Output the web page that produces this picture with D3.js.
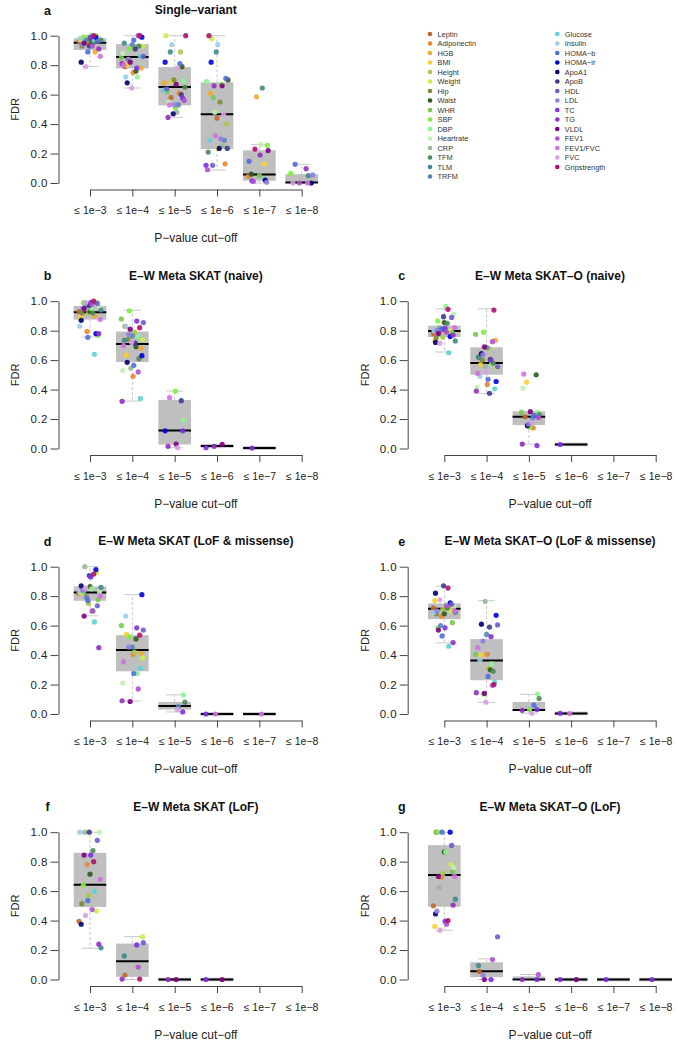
<!DOCTYPE html>
<html>
<head>
<meta charset="utf-8">
<script src="https://cdn.jsdelivr.net/npm/d3@7"></script>
<style>
  body { margin: 0; background: #fff; }
  svg { font-family: "Liberation Sans", Arial, Helvetica, sans-serif; }
</style>
</head>
<body>
<svg id="chart" width="678" height="1049"></svg>
<script>
const _ = null;

const traits = ["Leptin", "Adiponectin", "HGB", "BMI", "Height", "Weight", "Hip", "Waist", "WHR", "SBP",
  "DBP", "Heartrate", "CRP", "TFM", "TLM", "TRFM", "Glucose", "Insulin", "HOMA−b", "HOMA−ir",
  "ApoA1", "ApoB", "HDL", "LDL", "TC", "TG", "VLDL", "FEV1", "FEV1/FVC", "FVC", "Gripstrength"];

const traitColors = ["#c0692a", "#e8892c", "#f0a830", "#f5d033", "#a9c94a", "#c8f04a", "#7d8b3a", "#2f5a1e",
  "#78c850", "#7cf03c", "#8cf58c", "#bff0b0", "#9cb89a", "#4f8a5a", "#3f8a8a", "#5a84b8",
  "#5fd0d0", "#9ccce8", "#4e6ee0", "#0000e0", "#000070", "#3c3c8c", "#6c5cd0", "#9080e0",
  "#7c30e0", "#9030c0", "#800080", "#b050d0", "#d070e0", "#d8a0e0", "#b01070"];

const cutoffs = ["≤ 1e−3", "≤ 1e−4", "≤ 1e−5", "≤ 1e−6", "≤ 1e−7", "≤ 1e−8"];

const panelLetters = ["a", "b", "c", "d", "e", "f", "g"];
const panelTitles = ["Single–variant", "E–W Meta SKAT (naive)", "E–W Meta SKAT–O (naive)",
  "E–W Meta SKAT (LoF & missense)", "E–W Meta SKAT–O (LoF & missense)",
  "E–W Meta SKAT (LoF)", "E–W Meta SKAT–O (LoF)"];

// FDR per cut-off (rows) and trait (columns, same order as traits)
const fdrA = [
  [0.96,0.95,0.89,0.97,0.99,1.0,0.93,0.98,0.97,0.99,1.0,0.98,0.96,0.95,0.97,0.97,0.97,0.98,0.89,0.99,0.82,0.93,0.96,0.94,0.99,0.91,0.95,0.93,0.86,0.79,1.0],
  [0.79,0.75,0.78,0.80,0.92,0.93,0.84,0.76,0.85,0.91,0.72,0.88,0.83,0.93,0.95,0.94,0.86,0.72,0.97,0.99,0.68,0.91,0.86,0.84,0.78,0.81,0.82,1.0,0.80,0.645,1.0],
  [0.58,0.61,0.68,0.69,0.89,1.0,0.70,0.79,0.62,0.51,0.69,0.55,0.48,0.65,0.89,0.53,0.63,0.94,0.81,0.82,0.47,0.60,0.64,0.53,0.575,0.445,0.67,0.56,0.53,0.78,1.0],
  [0.44,0.13,0.61,0.235,0.40,0.98,0.55,0.70,0.58,0.67,0.69,0.48,0.25,0.21,0.89,0.29,0.29,0.94,0.71,0.82,0.235,0.235,0.12,0.30,0.12,0.66,0.66,0.09,0.32,0.465,1.0],
  [_,0.045,0.585,0.129,_,_,_,0.06,0.05,0.255,_,0.26,_,_,0.645,_,_,0.03,0.147,_,0.02,_,_,0.005,0.015,0.19,0.22,0.01,_,_,0.23],
  [_,_,_,_,_,_,_,_,_,0.065,_,_,_,_,0.05,_,_,_,0.127,_,0.0,_,_,0.055,_,0.097,_,0.0,0.0,0.0,_]
];
const fdrB = [
  [0.93,0.795,0.90,0.89,0.92,0.99,0.92,0.93,0.77,0.99,0.95,0.96,0.98,0.92,0.94,0.97,0.64,0.83,0.755,0.78,0.87,0.97,0.985,0.95,0.99,0.78,0.95,0.98,0.875,0.99,1.0],
  [0.83,0.49,0.68,0.635,0.79,0.74,0.74,0.69,0.88,0.935,0.76,0.53,0.545,0.61,0.735,0.765,0.34,0.83,0.565,0.63,0.585,0.715,0.855,0.775,0.865,0.32,0.81,0.52,0.70,0.72,0.82],
  [_,_,_,_,_,_,_,_,_,0.39,0.19,_,_,_,_,_,_,_,_,0.12,_,0.325,_,_,0.12,0.015,0.03,_,0.345,0.005,_],
  [_,_,_,_,_,_,_,_,_,_,_,_,_,_,_,_,_,_,_,_,_,_,_,_,0.005,0.015,0.028,_,_,_,_],
  [_,_,_,_,_,_,_,_,_,_,_,_,_,_,_,_,_,_,_,_,_,_,_,_,0.003,_,_,_,_,_,_],
  [_,_,_,_,_,_,_,_,_,_,_,_,_,_,_,_,_,_,_,_,_,_,_,_,_,_,_,_,_,_,_]
];
const fdrC = [
  [0.78,0.80,0.79,0.735,0.755,0.80,0.75,0.855,0.785,0.865,0.965,0.91,0.82,0.85,0.73,0.81,0.65,0.80,0.81,0.76,0.72,0.895,0.89,0.80,0.815,0.77,0.78,0.79,0.82,0.715,0.945],
  [0.62,0.435,0.735,0.57,0.68,0.55,0.60,0.605,0.775,0.79,0.58,0.415,0.56,0.58,0.62,0.685,0.405,0.49,0.47,0.455,0.645,0.375,0.555,0.635,0.60,0.39,0.69,0.725,0.51,0.52,0.94],
  [0.215,0.14,_,0.45,_,_,_,0.50,0.245,0.145,0.245,0.41,_,0.23,_,0.205,_,_,0.225,_,0.155,_,_,0.165,0.02,0.03,0.25,0.21,0.505,0.18,_],
  [_,_,_,_,_,_,_,_,_,_,_,_,_,_,_,_,_,_,_,_,_,_,_,_,0.027,_,_,_,_,_,_],
  [_,_,_,_,_,_,_,_,_,_,_,_,_,_,_,_,_,_,_,_,_,_,_,_,_,_,_,_,_,_,_],
  [_,_,_,_,_,_,_,_,_,_,_,_,_,_,_,_,_,_,_,_,_,_,_,_,_,_,_,_,_,_,_]
];
const fdrD = [
  [0.82,0.79,_,0.82,0.75,0.96,0.84,0.865,0.775,0.83,0.85,0.83,1.0,0.70,0.86,0.795,0.625,0.83,0.77,0.98,0.87,0.94,0.735,0.84,0.93,0.45,0.665,0.70,0.80,0.855,0.95],
  [_,0.405,0.41,0.54,0.42,0.38,_,0.51,0.60,0.525,0.275,0.21,_,_,_,0.455,0.31,0.665,0.275,0.81,_,_,0.57,0.455,0.585,0.09,0.085,0.17,0.355,_,0.535],
  [_,_,_,_,_,_,_,_,_,_,0.13,_,_,0.08,_,0.05,_,_,_,_,_,_,_,_,0.014,_,_,_,_,0.03,_],
  [_,_,_,_,_,_,_,_,_,_,_,_,_,_,_,_,_,_,_,_,_,_,_,_,0.0,_,_,_,0.0,_,_],
  [_,_,_,_,_,_,_,_,_,_,_,_,_,_,_,_,_,_,_,_,_,_,_,_,_,_,_,_,0.0,_,_],
  [_,_,_,_,_,_,_,_,_,_,_,_,_,_,_,_,_,_,_,_,_,_,_,_,_,_,_,_,_,_,_]
];
const fdrE = [
  [0.72,0.665,0.715,0.77,0.71,0.70,0.68,0.68,0.62,0.585,0.74,0.73,_,0.72,0.69,0.60,0.46,0.69,0.53,0.755,0.82,0.87,0.745,0.70,0.585,0.485,0.57,0.735,0.70,0.775,0.855],
  [_,0.405,_,0.40,0.31,_,_,0.30,0.405,0.135,0.34,_,0.765,0.29,_,0.54,0.215,0.365,0.255,0.67,0.61,0.59,0.605,0.495,0.525,0.145,0.14,0.195,0.45,0.08,0.20],
  [_,_,_,_,_,_,_,_,_,0.03,0.135,_,_,0.105,_,_,_,_,0.06,_,_,_,_,_,0.03,0.025,_,_,_,0.005,_],
  [_,_,_,_,_,_,_,_,_,_,_,_,_,_,_,_,_,_,_,_,_,_,_,_,0.005,_,_,_,0.003,_,_],
  [_,_,_,_,_,_,_,_,_,_,_,_,_,_,_,_,_,_,_,_,_,_,_,_,_,_,_,_,_,_,_],
  [_,_,_,_,_,_,_,_,_,_,_,_,_,_,_,_,_,_,_,_,_,_,_,_,_,_,_,_,_,_,_]
];
const fdrF = [
  [0.395,0.78,_,_,0.57,0.465,0.515,0.715,_,0.64,_,1.0,1.0,0.875,0.215,_,0.60,1.0,0.535,_,0.375,1.0,0.945,_,0.845,0.24,0.845,0.475,0.68,0.435,0.80],
  [0.03,_,_,_,_,0.29,_,_,_,_,_,_,_,_,0.16,_,_,_,_,_,_,_,0.25,_,0.235,0.003,_,0.085,_,_,0.003],
  [_,_,_,_,_,_,_,_,_,_,_,_,_,_,_,_,_,_,_,_,_,_,_,_,_,0.0,0.0,_,_,_,_],
  [_,_,_,_,_,_,_,_,_,_,_,_,_,_,_,_,_,_,_,_,_,_,_,_,0.0,_,0.0,_,_,_,_],
  [_,_,_,_,_,_,_,_,_,_,_,_,_,_,_,_,_,_,_,_,_,_,_,_,_,_,_,_,_,_,_],
  [_,_,_,_,_,_,_,_,_,_,_,_,_,_,_,_,_,_,_,_,_,_,_,_,_,_,_,_,_,_,_]
];
const fdrG = [
  [0.50,0.695,_,0.36,0.72,0.78,1.0,0.865,0.73,1.0,0.865,0.76,0.625,_,0.545,_,_,_,1.0,1.0,0.445,_,0.91,0.465,0.395,0.505,0.70,0.375,0.70,0.335,0.40],
  [0.055,_,_,_,_,_,_,_,_,_,_,_,_,_,0.095,_,_,_,_,_,_,_,0.29,0.03,0.0,_,0.0,0.135,_,_,_],
  [_,_,_,_,_,_,_,_,_,_,_,_,_,_,_,_,_,_,_,_,_,_,_,_,0.0,0.0,_,0.034,_,_,_],
  [_,_,_,_,_,_,_,_,_,_,_,_,_,_,_,_,_,_,_,_,_,_,_,_,0.0,_,0.0,_,_,_,_],
  [_,_,_,_,_,_,_,_,_,_,_,_,_,_,_,_,_,_,_,_,_,_,_,_,0.0,_,_,_,_,_,_],
  [_,_,_,_,_,_,_,_,_,_,_,_,_,_,_,_,_,_,_,_,_,_,_,_,0.0,_,_,_,_,_,_]
];

// box statistics per cut-off: [lower whisker, Q1, median, Q3, upper whisker]
const boxA = [[0.79,0.903,0.952,0.982,1.0],[0.645,0.778,0.855,0.943,1.0],[0.446,0.527,0.652,0.787,1.0],
  [0.088,0.231,0.466,0.683,1.0],[0.0,0.016,0.057,0.222,0.26],[0.0,0.0,0.003,0.06,0.127]];
const boxB = [[0.757,0.875,0.925,0.968,1.0],[0.322,0.587,0.71,0.794,0.939],[0.005,0.027,0.122,0.329,0.39],
  [0.005,0.01,0.017,0.025,0.028],[0.003,0.003,0.003,0.003,0.003],_];
const boxC = [[0.655,0.757,0.798,0.834,0.948],[0.374,0.501,0.58,0.687,0.948],[0.03,0.159,0.215,0.252,0.252],
  [0.027,0.027,0.027,0.027,0.027],_,_];
const boxD = [[0.667,0.769,0.825,0.866,1.0],[0.088,0.29,0.435,0.535,0.81],[0.014,0.03,0.055,0.082,0.13],
  [0,0,0,0,0],[0,0,0,0,0],_];
const boxE = [[0.483,0.644,0.714,0.751,0.868],[0.079,0.229,0.363,0.508,0.769],[0.005,0.023,0.027,0.082,0.134],
  [0.003,0.003,0.004,0.005,0.005],_,_];
const boxF = [[0.212,0.492,0.643,0.86,1.0],[0.0,0.018,0.124,0.244,0.291],[0,0,0,0,0],[0,0,0,0,0],_,_];
const boxG = [[0.334,0.494,0.709,0.912,1.0],[0.0,0.016,0.056,0.117,0.14],[0,0,0,0.018,0.034],
  [0,0,0,0,0],[0,0,0,0,0],[0,0,0,0,0]];

const panelFdr = [fdrA, fdrB, fdrC, fdrD, fdrE, fdrF, fdrG];
const panelBox = [boxA, boxB, boxC, boxD, boxE, boxF, boxG];

// layout
const panelCol = [0, 0, 1, 0, 1, 0, 1];
const panelRow = [0, 1, 1, 2, 2, 3, 3];
const cols = [
  {axisX: 58.5, x0: 90, x1: 301.7, letterX: 47.5},
  {axisX: 407.7, x0: 444.3, x1: 655.7, letterX: 401.7}
];
const rowTop = r => 35.7 + 265.5 * r;
const plotH = 147.3;
const boxHalf = 16.3, capHalf = 8.5, jitterW = 22;

const svg = d3.select("#chart");

panelLetters.forEach((letter, p) => {
  const col = cols[panelCol[p]];
  const top = rowTop(panelRow[p]);
  const bottom = top + plotH;
  const g = svg.append("g");

  const y = d3.scaleLinear().domain([0, 1]).range([bottom, top]);
  const x = d3.scalePoint().domain(cutoffs).range([col.x0, col.x1]);

  // titles
  g.append("text").attr("x", col.letterX).attr("y", top - 25.5).attr("dy", "0.35em")
    .attr("text-anchor", "middle").attr("font-weight", "bold").attr("font-size", 12.5)
    .attr("fill", "#111").text(letter);
  g.append("text").attr("x", (col.x0 + col.x1) / 2).attr("y", top - 25.5).attr("dy", "0.35em")
    .attr("text-anchor", "middle").attr("font-weight", "bold").attr("font-size", 12)
    .attr("fill", "#111").text(panelTitles[p]);

  // boxes
  panelBox[p].forEach((b, k) => {
    if (!b) return;
    const cx = x(cutoffs[k]);
    const [lo, q1, med, q3, hi] = b;
    const bg = g.append("g");
    bg.append("line").attr("x1", cx).attr("x2", cx).attr("y1", y(q3)).attr("y2", y(hi))
      .attr("stroke", "#c8c8c8").attr("stroke-dasharray", "3,2");
    bg.append("line").attr("x1", cx).attr("x2", cx).attr("y1", y(q1)).attr("y2", y(lo))
      .attr("stroke", "#c8c8c8").attr("stroke-dasharray", "3,2");
    [lo, hi].forEach(v => {
      bg.append("line").attr("x1", cx - capHalf).attr("x2", cx + capHalf)
        .attr("y1", y(v)).attr("y2", y(v)).attr("stroke", "#c8c8c8");
    });
    const h = Math.max(y(q1) - y(q3), 3.5);
    const yc = (y(q1) + y(q3)) / 2;
    bg.append("rect").attr("x", cx - boxHalf).attr("width", boxHalf * 2)
      .attr("y", yc - h / 2).attr("height", h).attr("fill", "#bfbfbf");
    bg.append("line").attr("x1", cx - boxHalf).attr("x2", cx + boxHalf)
      .attr("y1", y(med)).attr("y2", y(med)).attr("stroke", "#000").attr("stroke-width", 2);
  });

  // jittered points
  panelFdr[p].forEach((row, k) => {
    const cx = x(cutoffs[k]);
    const pts = row.map((v, i) => ({v, i})).filter(d => d.v !== null);
    g.append("g").selectAll("circle").data(pts).join("circle")
      .attr("cx", d => cx + (((d.i * 11 + k * 5) % 31) / 30 - 0.5) * jitterW)
      .attr("cy", d => y(d.v))
      .attr("r", 2.6)
      .attr("fill", d => traitColors[d.i])
      .attr("fill-opacity", 0.9);
  });

  // axes
  const ay = g.append("g").attr("transform", `translate(${col.axisX},0)`)
    .call(d3.axisLeft(y).tickValues([0, 0.2, 0.4, 0.6, 0.8, 1]).tickFormat(d3.format(".1f"))
      .tickSize(8).tickPadding(2.5).tickSizeOuter(0));
  const ax = g.append("g").attr("transform", `translate(0,${bottom + 6.5})`)
    .call(d3.axisBottom(x).tickSize(7).tickPadding(10.5).tickSizeOuter(0));
  [ay, ax].forEach(a => {
    a.selectAll("path, line").attr("stroke", "#444");
    a.selectAll("text").attr("fill", "#222").attr("font-family", null);
  });
  ay.attr("font-size", 11.5).attr("letter-spacing", 0.5);
  ax.attr("font-size", 10.5);

  g.append("text").attr("transform", `translate(${col.axisX - 43},${(top + bottom) / 2}) rotate(-90)`)
    .attr("dy", "0.35em").attr("text-anchor", "middle").attr("font-size", 11)
    .attr("fill", "#222").text("FDR");
  g.append("text").attr("x", (col.x0 + col.x1) / 2).attr("y", bottom + 55).attr("dy", "0.35em")
    .attr("text-anchor", "middle").attr("font-size", 12).attr("fill", "#222").text("P−value cut−off");
});

// legend
const legend = svg.append("g").attr("font-size", 7.4).attr("fill", "#333");
traits.forEach((t, i) => {
  const c = i < 16 ? 0 : 1;
  const r = i < 16 ? i : i - 16;
  const lx = c === 0 ? 430 : 557.3;
  const ly = 34 + r * 9.5;
  legend.append("circle").attr("cx", lx).attr("cy", ly).attr("r", 2.3).attr("fill", traitColors[i]);
  legend.append("text").attr("x", lx + 7.5).attr("y", ly).attr("dy", "0.35em").text(t);
});
</script>
</body>
</html>
